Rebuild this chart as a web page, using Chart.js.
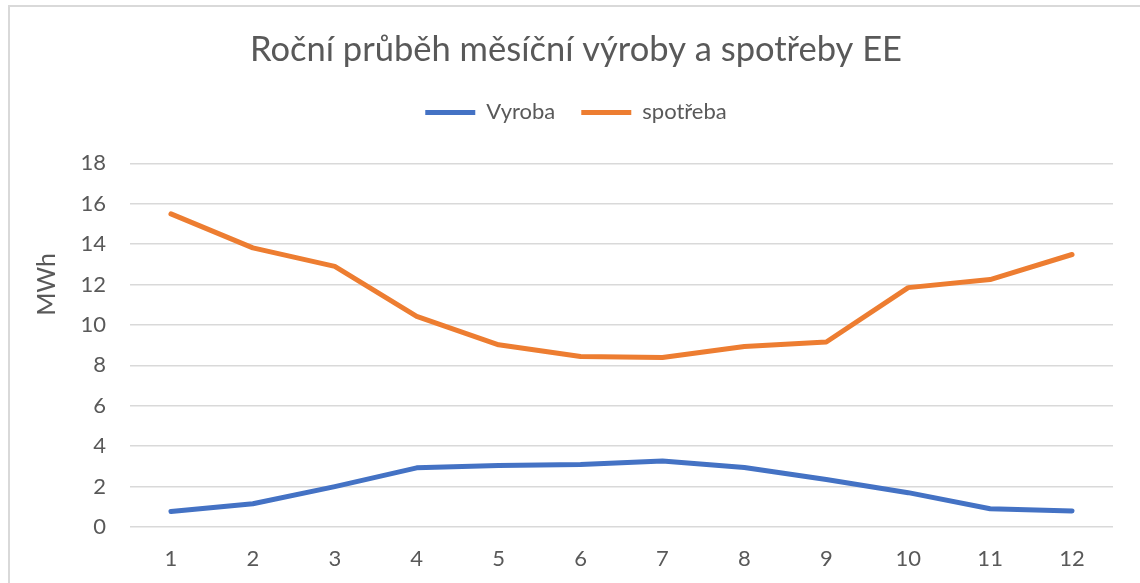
<html>
  <head>
    <meta charset="utf-8" />
    <title>Roční průběh</title>
    <style>
      body {
        margin: 0;
        padding: 0;
        background: #fff;
      }
      #wrap {
        position: relative;
        width: 1140px;
        height: 583px;
        overflow: hidden;
      }
      #frame {
        position: absolute;
        left: 8px;
        top: 5px;
        width: 1200px;
        height: 700px;
        border-left: 2px solid #d9d9d9;
        border-top: 2px solid #d9d9d9;
        pointer-events: none;
      }
    </style>
    <script src="https://cdn.jsdelivr.net/npm/chart.js@4.4.0/dist/chart.umd.min.js"></script>
  </head>
  <body>
    <div id="wrap">
      <canvas id="canvas" width="1140" height="583"></canvas>
      <div id="frame"></div>
    </div>
    <script>
      const mesice = ['1', '2', '3', '4', '5', '6', '7', '8', '9', '10', '11', '12'];
      const vyroba = [0.77, 1.15, 2.0, 2.93, 3.05, 3.1, 3.27, 2.95, 2.35, 1.7, 0.9, 0.79];
      const spotreba = [15.5, 13.82, 12.9, 10.43, 9.02, 8.44, 8.39, 8.94, 9.16, 11.85, 12.25, 13.49];
      const yTicks = [0, 2, 4, 6, 8, 10, 12, 14, 16, 18];

      const grey = '#595959';
      const font = 'Lato, "Liberation Sans", sans-serif';

      new Chart(document.getElementById('canvas'), {
        type: 'line',
        data: {
          labels: mesice,
          datasets: [
            {
              label: 'Vyroba',
              data: vyroba,
              borderColor: '#4472c4',
              backgroundColor: '#4472c4',
              borderWidth: 5,
              borderCapStyle: 'round',
              borderJoinStyle: 'round',
              pointRadius: 0,
              tension: 0,
            },
            {
              label: 'spotřeba',
              data: spotreba,
              borderColor: '#ed7d31',
              backgroundColor: '#ed7d31',
              borderWidth: 5,
              borderCapStyle: 'round',
              borderJoinStyle: 'round',
              pointRadius: 0,
              tension: 0,
            },
          ],
        },
        options: {
          responsive: false,
          animation: false,
          layout: { padding: { left: 39, right: 27, top: 0, bottom: 0 } },
          plugins: {
            title: {
              display: true,
              text: 'Roční průběh měsíční výroby a spotřeby EE',
              color: grey,
              font: { family: font, size: 34.5, weight: 'normal' },
              padding: { top: 29, bottom: 5 },
            },
            // empty spacer between legend and plot
            subtitle: {
              display: true,
              text: '',
              padding: 0,
              font: { size: 30, lineHeight: 1 },
            },
            legend: {
              weight: 1750,
              labels: {
                usePointStyle: true,
                pointStyle: 'line',
                pointStyleWidth: 50,
                padding: 26,
                color: grey,
                font: { family: font, size: 22 },
              },
            },
            tooltip: { enabled: false },
          },
          scales: {
            x: {
              offset: true,
              grid: { display: false },
              border: { display: false },
              ticks: {
                color: grey,
                padding: 11,
                font: { family: font, size: 22 },
              },
              afterFit: (scale) => {
                scale.height = 56;
              },
            },
            y: {
              min: 0,
              max: 18,
              afterBuildTicks: (scale) => {
                scale.ticks = yTicks.map((v) => ({ value: v }));
              },
              grid: { color: '#d9d9d9', lineWidth: 1.5, drawTicks: false },
              border: { display: false },
              ticks: {
                color: grey,
                padding: 24,
                font: { family: font, size: 22 },
              },
              title: {
                display: true,
                text: '\u00a0'.repeat(19) + 'MWh',
                color: grey,
                padding: 0,
                font: { family: font, size: 25, lineHeight: 0.64 },
              },
              afterFit: (scale) => {
                scale.width = 91;
              },
            },
          },
        },
      });
    </script>
  </body>
</html>
